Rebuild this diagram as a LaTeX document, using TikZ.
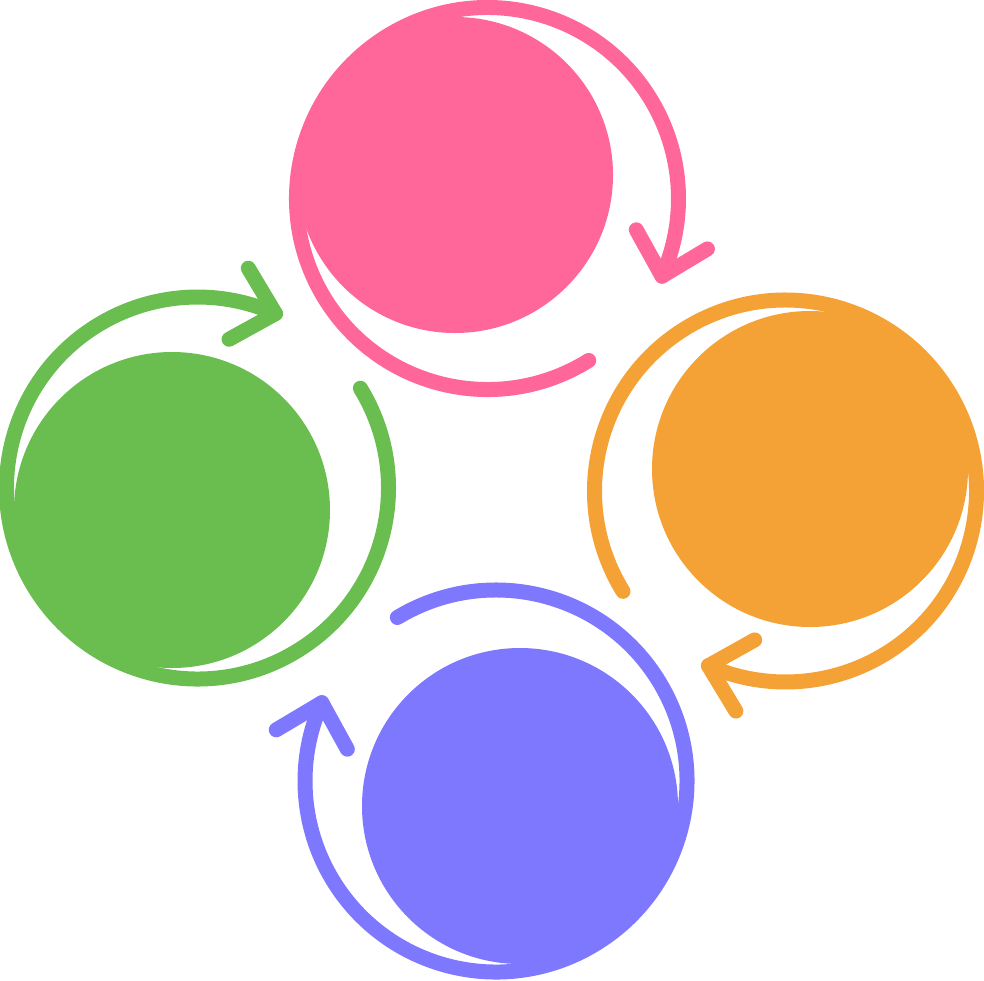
\documentclass[tikz,border=0pt]{standalone}
\usetikzlibrary{calc}
\definecolor{cpink}{RGB}{255,102,153}
\definecolor{corange}{RGB}{244,162,54}
\definecolor{cgreen}{RGB}{106,190,80}
\definecolor{cblue}{RGB}{126,120,255}
\tikzset{
  ringline/.style={line width=15pt, line cap=round, line join=round},
  blob/.style={circle, inner sep=0pt, outer sep=0pt, minimum size=316pt},
}
% #1 name, #2 colour, #3 #4 ring centre (screen px), #5 start angle, #6 arrow apex angle (TikZ), #7 #8 disc centre (screen px)
\newcommand{\cycleunit}[8]{%
  \coordinate (#1-c) at (#3,-#4);
  \coordinate (#1-apex) at ($(#1-c)+(#6:191)$);
  \draw[ringline, #2] ($(#1-c)+(#5:191)$) arc[start angle=#5, end angle=#6, radius=191pt];
  \draw[ringline, #2] ($(#1-apex)+({#6-217}:53)$) -- (#1-apex) -- ($(#1-apex)+({#6-305}:53)$);
  \node[blob, fill=#2] (#1) at (#7,-#8) {};
}
\begin{document}
\begin{tikzpicture}[x=1pt,y=1pt]
\useasboundingbox (0,0) rectangle (984,-980);
\cycleunit{pink}{cpink}{487.5}{198.5}{-58}{-384}{455}{175}
\cycleunit{orange}{corange}{785.5}{491}{-148.3}{-473.8}{810}{469}
\cycleunit{blue}{cblue}{496}{781}{-238.9}{-564.2}{520}{806}
\cycleunit{green}{cgreen}{197.5}{488}{31.5}{-294.1}{172}{510}
\end{tikzpicture}
\end{document}
